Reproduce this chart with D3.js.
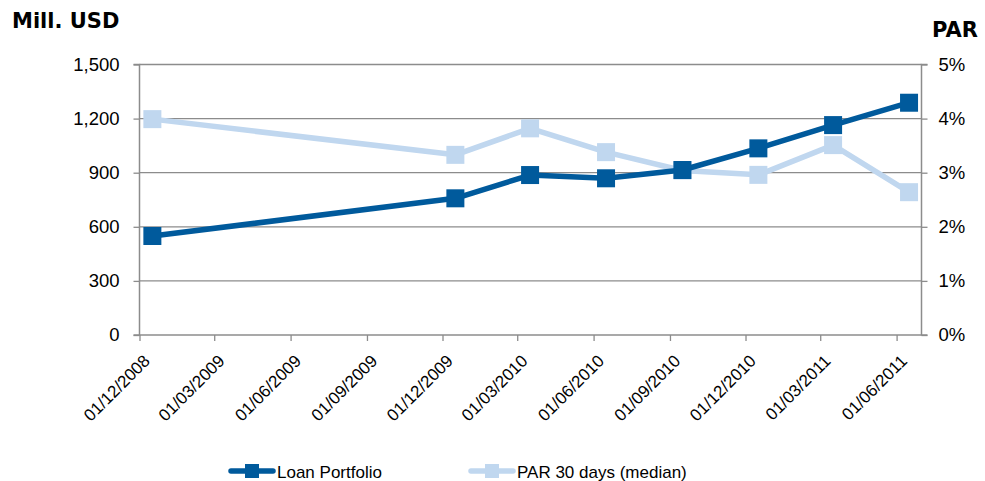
<!DOCTYPE html>
<html>
<head>
<meta charset="utf-8">
<script src="https://cdn.jsdelivr.net/npm/d3@7"></script>
<style>
  html, body { margin: 0; padding: 0; background: #fff; }
  svg { display: block; }
</style>
</head>
<body>
<svg id="chart" width="985" height="481"></svg>
<script>
// ---- Data ----
const months = ["2008-12", "2009-12", "2010-03", "2010-06", "2010-09", "2010-12", "2011-03", "2011-06"];
const loanPortfolio = [549, 758, 887, 869, 915, 1035, 1164, 1288];
const par30 = [0.0399, 0.0333, 0.0382, 0.0338, 0.0304, 0.0296, 0.0351, 0.0264];
const leftTicks = [0, 300, 600, 900, 1200, 1500];
const rightTicks = [0, 0.01, 0.02, 0.03, 0.04, 0.05];
const xTickLabels = ["01/12/2008", "01/03/2009", "01/06/2009", "01/09/2009", "01/12/2009", "01/03/2010",
  "01/06/2010", "01/09/2010", "01/12/2010", "01/03/2011", "01/06/2011"];
const axisStart = "01/12/2008";
const axisEnd = "01/07/2011";
const seriesNames = ["Loan Portfolio", "PAR 30 days (median)"];
const leftTitle = "Mill. USD";
const rightTitle = "PAR";

// ---- Layout ----
const svg = d3.select("#chart");
const m = { left: 139.5, right: 921.5, top: 64.5, bottom: 335 };
const parse = d3.timeParse("%d/%m/%Y");
const parseMonth = d3.timeParse("%Y-%m");
const x = d3.scaleTime().domain([parse(axisStart), parse(axisEnd)]).range([m.left, m.right]);
const yL = d3.scaleLinear().domain([0, 1500]).range([m.bottom, m.top]);
const yR = d3.scaleLinear().domain([0, 0.05]).range([m.bottom, m.top]);
// plot each value at the middle of its month slot
const midMonth = s => {
  const a = parseMonth(s), b = d3.timeMonth.offset(a, 1);
  return (x(a) + x(b)) / 2;
};

const gridColor = "#8c8c8c";
const loanColor = "#005a9c";
const parColor = "#c0d7ef";
const font = "Arial, 'Liberation Sans', sans-serif";

// gridlines
svg.append("g").selectAll("line").data(leftTicks.filter(d => d > 0)).join("line")
  .attr("x1", m.left).attr("x2", m.right)
  .attr("y1", d => yL(d)).attr("y2", d => yL(d))
  .attr("stroke", gridColor).attr("stroke-width", 1.3);

// left axis
const gL = svg.append("g").attr("transform", `translate(${m.left},0)`)
  .call(d3.axisLeft(yL).tickValues(leftTicks).tickFormat(d3.format(",")).tickSize(6).tickPadding(14));
// right axis
const gR = svg.append("g").attr("transform", `translate(${m.right},0)`)
  .call(d3.axisRight(yR).tickValues(rightTicks).tickFormat(d3.format(".0%")).tickSize(6).tickPadding(11));
// bottom axis
const xTicks = xTickLabels.map(parse);
const gB = svg.append("g").attr("transform", `translate(0,${m.bottom})`)
  .call(d3.axisBottom(x).tickValues(xTicks).tickFormat(d3.timeFormat("%d/%m/%Y")).tickSize(6));

[gL, gR, gB].forEach(g => {
  g.select(".domain").attr("stroke", gridColor).attr("stroke-width", 1.5);
  g.selectAll(".tick line").attr("stroke", gridColor).attr("stroke-width", 1.3);
  g.selectAll("text").attr("font-family", font).attr("font-size", 18.5).attr("fill", "#000");
});
gL.select(".domain").attr("d", `M-6,${m.bottom}H0V${m.top}H-6`);
gR.select(".domain").attr("d", `M6,${m.bottom}H0V${m.top}H6`);
gB.select(".domain").attr("d", `M${m.left},0H${m.right}`);
gB.selectAll(".tick text")
  .attr("font-size", 17)
  .attr("text-anchor", "end")
  .attr("dy", 0)
  .attr("y", 0)
  .attr("transform", "translate(11,27) rotate(-45)");

// lines
const lineL = d3.line().x((d, i) => midMonth(months[i])).y(d => yL(d));
const lineR = d3.line().x((d, i) => midMonth(months[i])).y(d => yR(d));
const ms = 18;

svg.append("path").datum(par30).attr("d", lineR)
  .attr("fill", "none").attr("stroke", parColor).attr("stroke-width", 5.5).attr("stroke-linejoin", "round");
svg.append("g").selectAll("rect").data(par30).join("rect")
  .attr("x", (d, i) => midMonth(months[i]) - ms / 2).attr("y", d => yR(d) - ms / 2)
  .attr("width", ms).attr("height", ms).attr("fill", parColor);

svg.append("path").datum(loanPortfolio).attr("d", lineL)
  .attr("fill", "none").attr("stroke", loanColor).attr("stroke-width", 5.5).attr("stroke-linejoin", "round");
svg.append("g").selectAll("rect").data(loanPortfolio).join("rect")
  .attr("x", (d, i) => midMonth(months[i]) - ms / 2).attr("y", d => yL(d) - ms / 2)
  .attr("width", ms).attr("height", ms).attr("fill", loanColor);

// titles
svg.append("text").attr("x", 12).attr("y", 28).text(leftTitle)
  .attr("font-family", "'DejaVu Sans', sans-serif").attr("font-weight", "bold").attr("font-size", 21);
svg.append("text").attr("x", 932).attr("y", 37).text(rightTitle)
  .attr("font-family", "'DejaVu Sans', sans-serif").attr("font-weight", "bold").attr("font-size", 21);

// legend
const legend = [
  { name: seriesNames[0], color: loanColor, x: 231 },
  { name: seriesNames[1], color: parColor, x: 471 }
];
const lg = svg.append("g").selectAll("g").data(legend).join("g")
  .attr("transform", d => `translate(${d.x},471)`);
lg.append("line").attr("x1", 0).attr("x2", 42).attr("y1", 0).attr("y2", 0)
  .attr("stroke", d => d.color).attr("stroke-width", 5.5).attr("stroke-linecap", "round");
lg.append("rect").attr("x", 14).attr("y", -7).attr("width", 14).attr("height", 14).attr("fill", d => d.color);
lg.append("text").attr("x", 46).attr("y", 7).text(d => d.name)
  .attr("font-family", font).attr("font-size", 17);
</script>
</body>
</html>
